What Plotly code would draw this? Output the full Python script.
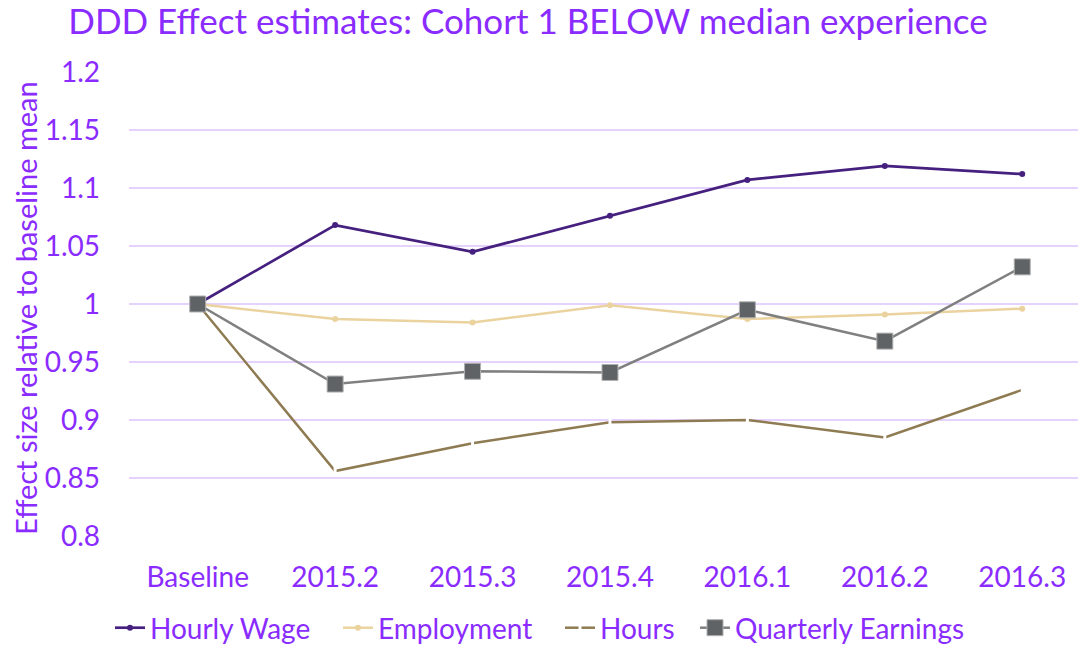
import plotly.graph_objects as go

categories = ["Baseline", "2015.2", "2015.3", "2015.4", "2016.1", "2016.2", "2016.3"]
hourly_wage = [1.0, 1.068, 1.045, 1.076, 1.107, 1.119, 1.112]
employment = [1.0, 0.987, 0.984, 0.999, 0.987, 0.991, 0.996]
hours = [1.0, 0.856, 0.880, 0.898, 0.900, 0.885, 0.926]
quarterly_earnings = [1.0, 0.931, 0.942, 0.941, 0.995, 0.968, 1.032]
y_ticks = [0.8, 0.85, 0.9, 0.95, 1, 1.05, 1.1, 1.15, 1.2]
y_tick_labels = ["0.8", "0.85", "0.9", "0.95", "1", "1.05", "1.1", "1.15", "1.2"]

TXT = "#8A2BFF"
FONT = "Lato"

# plot area in figure pixels
L, R, T, B = 121, 8, 64, 117
W, H = 1086, 645
PW = W - L - R
PH = H - T - B

fig = go.Figure()
fig.add_trace(go.Scatter(x=categories, y=hourly_wage, name="Hourly Wage", mode="lines+markers",
                         line=dict(color="#46207F", width=2.7), legend="legend",
                         marker=dict(symbol="circle", size=6, color="#46207F")))
fig.add_trace(go.Scatter(x=categories, y=employment, name="Employment", mode="lines+markers",
                         line=dict(color="#EBD39F", width=2.5), legend="legend2",
                         marker=dict(symbol="circle", size=6, color="#EBD39F")))
fig.add_trace(go.Scatter(x=categories, y=hours, name="Hours", mode="lines+markers",
                         line=dict(color="#8E7B52", width=2.5), legend="legend3",
                         marker=dict(symbol="line-ns", size=8, color="white",
                                     line=dict(color="white", width=3))))
fig.add_trace(go.Scatter(x=categories, y=quarterly_earnings, name="Quarterly Earnings", mode="lines+markers",
                         line=dict(color="#808080", width=2.5), legend="legend4",
                         marker=dict(symbol="square", size=16, color="#606366",
                                     line=dict(color="#B0B0B0", width=1))))


def leg(xpix):
    return dict(orientation="h", x=(xpix - L) / PW, xref="paper", xanchor="left",
                y=-92 / PH, yanchor="middle", font=dict(size=28, color=TXT, family=FONT),
                bgcolor="rgba(0,0,0,0)", borderwidth=0)


fig.update_layout(
    width=W, height=H,
    margin=dict(l=L, r=R, t=T, b=B, autoexpand=False),
    paper_bgcolor="white", plot_bgcolor="white",
    font=dict(family=FONT, color=TXT, size=28),
    title=dict(text="DDD Effect estimates: Cohort 1 BELOW median experience",
               x=520/W, xanchor="center", y=1-1/H, yanchor="top",
               font=dict(family=FONT, size=35, color=TXT)),
    xaxis=dict(type="category", categoryorder="array", categoryarray=categories,
               range=[-0.5, 6.464], showgrid=False, zeroline=False, showline=False,
               ticks="", tickfont=dict(size=28, color=TXT), ticklabelstandoff=22),
    yaxis=dict(range=[0.8, 1.2], tickvals=y_ticks, ticktext=y_tick_labels,
               showgrid=True, gridcolor="#E6D2FF", gridwidth=1.5, zeroline=False,
               showline=False, ticks="", tickfont=dict(size=28, color=TXT),
               ticklabelstandoff=28),
    showlegend=True,
    legend=leg(102), legend2=leg(330), legend3=leg(552), legend4=leg(687),
    annotations=[dict(text="Effect size relative to baseline mean", textangle=-90,
                      xref="paper", yref="paper", x=(17-L)/PW, y=(H-B-300)/PH,
                      xanchor="center", yanchor="middle", showarrow=False,
                      font=dict(size=29, color=TXT, family=FONT))],
)

fig.write_html("out.html")
